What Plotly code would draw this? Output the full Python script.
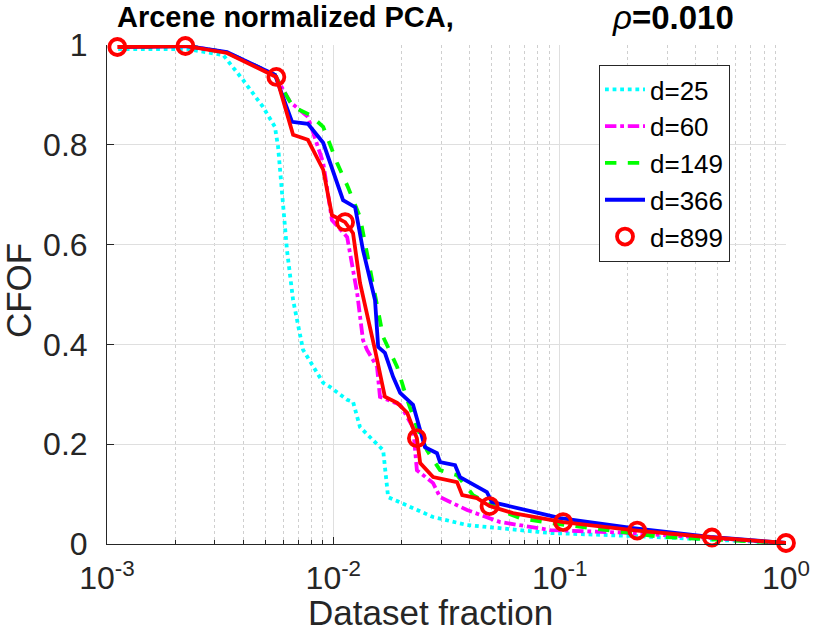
import plotly.graph_objects as go

# ---------------- data ----------------
x_d25 = [1.12e-3, 2.26e-3, 3.26e-3, 3.99e-3, 4.89e-3, 5.52e-3, 5.70e-3, 6.00e-3, 6.24e-3,
         6.64e-3, 7.35e-3, 9.02e-3, 9.66e-3, 1.151e-2, 1.222e-2, 1.312e-2, 1.66e-2,
         1.746e-2, 2.18e-2, 2.76e-2, 3.90e-2, 5.46e-2, 9.08e-2, 0.211, 1.0]
y_d25 = [0.992, 0.992, 0.980, 0.930, 0.876, 0.836, 0.796, 0.669, 0.589,
         0.489, 0.389, 0.323, 0.315, 0.289, 0.285, 0.234, 0.188,
         0.094, 0.074, 0.054, 0.038, 0.032, 0.022, 0.016, 0.002]

x_d60 = [1.12e-3, 2.26e-3, 3.39e-3, 5.52e-3, 6.44e-3, 7.72e-3, 9.02e-3, 9.86e-3, 1.151e-2,
         1.274e-2, 1.352e-2, 1.409e-2, 1.56e-2, 1.607e-2, 1.973e-2, 2.25e-2, 2.34e-2,
         2.76e-2, 2.96e-2, 3.90e-2, 5.46e-2, 9.08e-2, 0.211, 1.0]
y_d60 = [0.996, 0.998, 0.985, 0.940, 0.886, 0.856, 0.764, 0.649, 0.615,
         0.503, 0.409, 0.389, 0.355, 0.295, 0.279, 0.234, 0.148,
         0.122, 0.094, 0.068, 0.044, 0.028, 0.022, 0.002]

x_d149 = [1.12e-3, 2.26e-3, 3.39e-3, 5.52e-3, 5.93e-3, 6.64e-3, 7.88e-3, 9.02e-3, 1.038e-2,
          1.161e-2, 1.312e-2, 1.496e-2, 1.66e-2, 1.914e-2, 2.12e-2, 2.34e-2, 2.59e-2,
          2.96e-2, 3.52e-2, 4.14e-2, 5.86e-2, 6.68e-2, 9.08e-2, 0.136, 0.286, 1.0]
y_d149 = [0.996, 0.998, 0.985, 0.940, 0.914, 0.876, 0.860, 0.836, 0.764,
          0.715, 0.655, 0.523, 0.415, 0.355, 0.289, 0.234, 0.188,
          0.148, 0.138, 0.098, 0.062, 0.052, 0.042, 0.032, 0.014, 0.002]

x_d366 = [1.12e-3, 2.26e-3, 3.39e-3, 5.52e-3, 6.57e-3, 7.72e-3, 9.02e-3, 1.104e-2, 1.248e-2,
          1.352e-2, 1.528e-2, 1.578e-2, 1.69e-2, 1.837e-2, 1.973e-2, 2.25e-2, 2.54e-2,
          2.87e-2, 2.96e-2, 3.45e-2, 3.63e-2, 4.77e-2, 5.02e-2, 6.22e-2, 0.1005, 0.211,
          0.462, 1.0]
y_d366 = [0.996, 0.998, 0.986, 0.940, 0.846, 0.842, 0.804, 0.689, 0.675,
          0.589, 0.489, 0.395, 0.383, 0.335, 0.303, 0.279, 0.194,
          0.182, 0.164, 0.158, 0.134, 0.104, 0.084, 0.074, 0.052, 0.032,
          0.014, 0.002]

x_d899 = [1.111e-3, 2.22e-3, 3.39e-3, 5.6e-3, 6.64e-3, 7.72e-3, 9.02e-3, 9.86e-3, 1.127e-2,
          1.222e-2, 1.312e-2, 1.422e-2, 1.528e-2, 1.69e-2, 1.914e-2, 2.12e-2, 2.34e-2,
          2.42e-2, 2.76e-2, 3.52e-2, 3.71e-2, 4.31e-2, 4.9e-2, 6.22e-2, 9.08e-2, 0.1035,
          0.22, 0.471, 1.0]
y_d899 = [0.996, 0.998, 0.984, 0.936, 0.820, 0.810, 0.750, 0.659, 0.645,
          0.623, 0.523, 0.455, 0.389, 0.295, 0.283, 0.263, 0.212,
          0.162, 0.134, 0.124, 0.098, 0.092, 0.076, 0.062, 0.048, 0.044,
          0.027, 0.013, 0.002]
marker_idx_d899 = [0, 1, 3, 8, 16, 22, 25, 26, 27, 28]

series_names = ["d=25", "d=60", "d=149", "d=366", "d=899"]

x_tickvals = [1e-3, 1e-2, 1e-1, 1]
x_ticktext = ["10<sup>-3</sup>", "10<sup>-2</sup>", "10<sup>-1</sup>", "10<sup>0</sup>"]
y_tickvals = [0, 0.2, 0.4, 0.6, 0.8, 1]
y_ticktext = ["0", "0.2", "0.4", "0.6", "0.8", "1"]

# ---------------- figure ----------------
FONT = "Liberation Sans, Arial, Helvetica, sans-serif"
AX = "#262626"
LW = 3.8

fig = go.Figure()
fig.add_trace(go.Scatter(x=x_d25, y=y_d25, mode="lines", name=series_names[0],
                         line=dict(color="#00ffff", width=LW, dash="dot")))
fig.add_trace(go.Scatter(x=x_d60, y=y_d60, mode="lines", name=series_names[1],
                         line=dict(color="#ff00ff", width=LW, dash="dashdot")))
fig.add_trace(go.Scatter(x=x_d149, y=y_d149, mode="lines", name=series_names[2],
                         line=dict(color="#00ff00", width=LW, dash="dash")))
fig.add_trace(go.Scatter(x=x_d366, y=y_d366, mode="lines", name=series_names[3],
                         line=dict(color="#0000ff", width=LW)))
fig.add_trace(go.Scatter(x=x_d899, y=y_d899, mode="lines", name=series_names[4],
                         showlegend=False, line=dict(color="#ff0000", width=LW)))
fig.add_trace(go.Scatter(x=[x_d899[i] for i in marker_idx_d899],
                         y=[y_d899[i] for i in marker_idx_d899],
                         mode="markers", name=series_names[4], cliponaxis=False,
                         marker=dict(symbol="circle-open", size=16, color="#ff0000",
                                     line=dict(width=3.8, color="#ff0000"))))

fig.update_layout(
    width=815, height=640,
    margin=dict(l=107, r=29, t=45, b=96, autoexpand=False),
    paper_bgcolor="white", plot_bgcolor="white",
    font=dict(family=FONT, color=AX, size=32),
    showlegend=True,
    legend=dict(x=0.7246, y=0.96, xanchor="left", yanchor="top",
                bgcolor="white", bordercolor=AX, borderwidth=1,
                font=dict(size=26, color="black"), tracegroupgap=0,
                itemwidth=40),
    xaxis=dict(type="log", range=[-3, 0], tickmode="array",
               tickvals=x_tickvals, ticktext=x_ticktext,
               ticks="inside", ticklen=7, tickcolor=AX,
               showline=True, linecolor=AX, linewidth=1, mirror=False,
               showgrid=True, gridcolor="#dfdfdf", gridwidth=1,
               zeroline=False, ticklabelstandoff=6,
               minor=dict(ticks="inside", ticklen=4, tickcolor=AX, dtick="D1",
                          showgrid=True, gridcolor="#cfcfcf", griddash="dot", gridwidth=1),
               tickfont=dict(size=32, color=AX)),
    yaxis=dict(range=[0, 1], tickmode="array", tickvals=y_tickvals, ticktext=y_ticktext,
               ticks="inside", ticklen=7, tickcolor=AX,
               showline=True, linecolor=AX, linewidth=1, mirror=False,
               showgrid=True, gridcolor="#dfdfdf", gridwidth=1, zeroline=False,
               ticklabelstandoff=12, tickfont=dict(size=32, color=AX)),
    annotations=[
        dict(text="<b>Arcene normalized PCA,</b>", xref="paper", yref="paper",
             x=0.0118, y=1.056, xanchor="left", yanchor="middle", showarrow=False,
             font=dict(size=29, color="black", family=FONT)),
        dict(text="<i>ρ</i><b>=0.010</b>", xref="paper", yref="paper",
             x=0.741, y=1.056, xanchor="left", yanchor="middle", showarrow=False,
             font=dict(size=33, color="black", family=FONT)),
        dict(text="Dataset fraction", xref="paper", yref="paper",
             x=0.477, y=-0.138, xanchor="center", yanchor="middle", showarrow=False,
             font=dict(size=35, color=AX, family=FONT)),
        dict(text="CFOF", xref="paper", yref="paper", textangle=-90,
             x=-0.131, y=0.507, xanchor="center", yanchor="middle", showarrow=False,
             font=dict(size=35, color=AX, family=FONT)),
    ],
)

fig.write_html("out.html")
